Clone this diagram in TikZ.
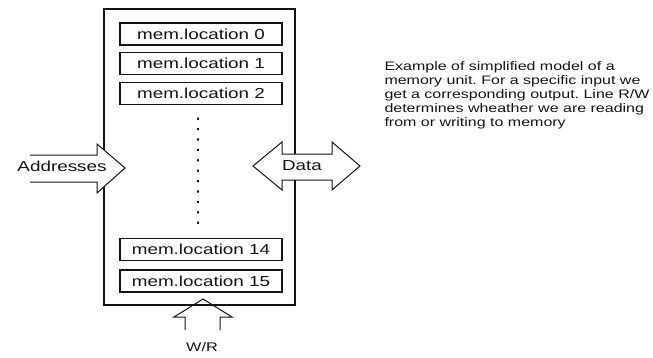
\documentclass[tikz,border=0pt]{standalone}
\usepackage{fontspec}
\setmainfont{Liberation Sans}
\newfontfamily\widesans[FakeStretch=1.3]{Liberation Sans}
\usetikzlibrary{positioning}
\definecolor{ink}{RGB}{20,20,20}
\frenchspacing
\tikzset{
  every picture/.style={color=ink, line width=1pt},
  unit/.style={draw=ink, line width=1.8pt},
  memcell/.style={draw=ink, line width=1.1pt, minimum width=162pt, minimum height=22pt,
    inner sep=0pt, font=\widesans\fontsize{14.5}{16}\selectfont},
  blockarrow/.style={draw=ink, line width=1pt, line join=miter},
  lbl/.style={font=\widesans\fontsize{14.5}{16}\selectfont, inner sep=0pt},
  note/.style={font=\widesans\fontsize{12.3}{14}\selectfont, inner sep=0pt, align=left, anchor=north west},
}

\begin{document}
\begin{tikzpicture}[x=1pt, y=-1pt]
  \useasboundingbox (0,0) rectangle (653,357);
  % the memory unit and its cells
  \node[unit, minimum width=191pt, minimum height=296pt, inner sep=0pt] (mem) at (199.5,157) {};
  \foreach \k/\y in {0/34, 1/63.5, 2/93.5, 14/249.5, 15/281} {
    \node[memcell] (cell\k) at (201,\y) {mem.location \k};
  }
  \coordinate (gaptop) at (198,118);
  \coordinate (gapbot) at (198,228);
  \draw[line width=1.4pt, dash pattern=on 1.4pt off 9pt, line cap=round] (gaptop) -- (gapbot);
  % address input, open at its tail
  \draw[blockarrow, fill=white] (30,155) -- (97,155) -- (97,144) -- (125,168) -- (97,193) -- (97,182) -- (30,182);
  \node[lbl] (addr) at (62,166) {Addresses};
  % data in both directions
  \draw[blockarrow, fill=white] (253,166) -- (282,142) -- (282,154) -- (332,154) -- (332,142) -- (360,166)
    -- (332,190) -- (332,180) -- (282,180) -- (282,190) -- cycle;
  \node[lbl] (data) at (302,166) {Data};
  % read/write line
  \draw[blockarrow] (185,330) -- (185,317) -- (174,317) -- (203,299) -- (232,317) -- (220,317) -- (220,330);
  \node[lbl, font=\widesans\fontsize{12.5}{14}\selectfont] (rw) at (202,347) {W/R};
  \node[note] (caption) at (384,61) {Example of simplified model of a\\
    memory unit. For a specific input we\\
    get a corresponding output. Line R/W\\
    determines wheather we are reading\\
    from or writing to memory};
\end{tikzpicture}
\end{document}
